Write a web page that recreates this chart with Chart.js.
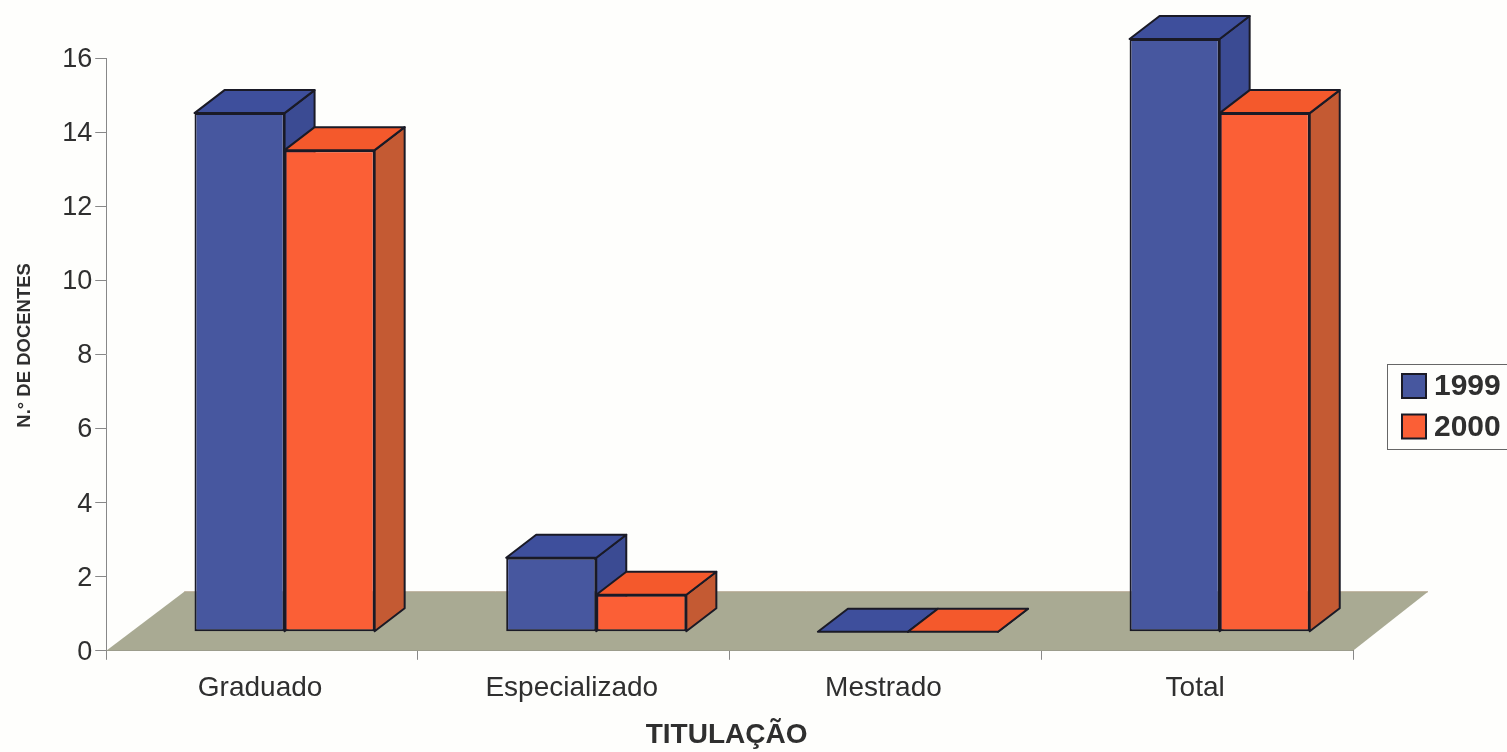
<!DOCTYPE html>
<html>
<head>
<meta charset="utf-8">
<title>Docentes por titulação</title>
<script src="https://cdn.jsdelivr.net/npm/chart.js@4"></script>
<style>
  html, body { margin: 0; padding: 0; background: #fefefc; }
  #wrap { width: 1507px; height: 752px; }
</style>
</head>
<body>
<div id="wrap"><canvas id="chart"></canvas></div>
<script>
const categories = ["Graduado", "Especializado", "Mestrado", "Total"];
const values1999 = [14, 2, 0, 16];
const values2000 = [13, 1, 0, 14];

const FONT = "'Liberation Sans', Arial, sans-serif";
const TEXT = "#2f2f2f";
const EDGE = "#1a1a26";

// fake 3d: bars stand on a floor, a bit behind the axis line
const shift = { x: 22.5, y: -19 };
const depth = { x: 30, y: -23 };
const floor = { backLeft: 78, backRight: 75, back: -59 };
const topColors = ["#3e4f9c", "#f4592c"];
const sideColors = ["#3b4b93", "#c45a33"];

function face(ctx, pts, fill) {
  ctx.beginPath();
  pts.forEach((p, i) => (i ? ctx.lineTo(p[0], p[1]) : ctx.moveTo(p[0], p[1])));
  ctx.closePath();
  ctx.fillStyle = fill;
  ctx.fill();
  ctx.stroke();
}

function drawFaces(chart, index) {
  const ctx = chart.ctx;
  ctx.save();
  ctx.translate(shift.x, shift.y);
  ctx.strokeStyle = EDGE;
  ctx.lineWidth = 2;
  ctx.lineJoin = "round";
  chart.getDatasetMeta(index).data.forEach((bar) => {
    const l = bar.x - bar.width / 2;
    const r = bar.x + bar.width / 2;
    const t = bar.y;
    const b = bar.base;
    face(ctx, [[r, t], [r + depth.x, t + depth.y], [r + depth.x, b + depth.y], [r, b]], sideColors[index]);
    face(ctx, [[l, t], [l + depth.x, t + depth.y], [r + depth.x, t + depth.y], [r, t]], topColors[index]);
  });
  ctx.restore();
}

// axis titles in the picture are not centred on their axes
function nudgeTitle(scale, dx, dy) {
  const draw = scale.drawTitle;
  scale.drawTitle = function () {
    scale.ctx.save();
    scale.ctx.translate(dx, dy);
    draw.call(scale);
    scale.ctx.restore();
  };
}

const bars3d = {
  id: "bars3d",
  afterLayout(chart) {
    nudgeTitle(chart.scales.y, 0, -9);
    nudgeTitle(chart.scales.x, -3, 0);
  },
  beforeDatasetsDraw(chart) {
    const { ctx, chartArea: a } = chart;
    const y0 = chart.scales.y.getPixelForValue(0);
    ctx.save();
    ctx.beginPath();
    ctx.moveTo(a.left, y0);
    ctx.lineTo(a.right, y0);
    ctx.lineTo(a.right + floor.backRight, y0 + floor.back);
    ctx.lineTo(a.left + floor.backLeft, y0 + floor.back);
    ctx.closePath();
    ctx.fillStyle = "#a9aa93";
    ctx.fill();
    ctx.strokeStyle = "#b3a48c";
    ctx.lineWidth = 1;
    ctx.beginPath();
    ctx.moveTo(a.left + floor.backLeft, y0 + floor.back);
    ctx.lineTo(a.right + floor.backRight, y0 + floor.back);
    ctx.stroke();
    ctx.restore();
    // 1999 goes behind the 2000 front faces
    drawFaces(chart, 0);
  },
  beforeDatasetDraw(chart) {
    chart.ctx.save();
    chart.ctx.translate(shift.x, shift.y);
  },
  afterDatasetDraw(chart) {
    chart.ctx.restore();
  },
  afterDatasetsDraw(chart) {
    drawFaces(chart, 1);
  },
  afterDraw(chart) {
    const ctx = chart.ctx;
    ctx.save();
    ctx.strokeStyle = "#666";
    ctx.lineWidth = 1;
    ctx.strokeRect(1387.5, 364.5, 125, 85);
    ctx.font = "bold 30px " + FONT;
    ctx.textBaseline = "middle";
    chart.data.datasets.forEach((ds, i) => {
      const y = 374 + i * 40.5;
      ctx.fillStyle = ds.backgroundColor;
      ctx.strokeStyle = EDGE;
      ctx.lineWidth = 2;
      ctx.fillRect(1402, y, 24, 24);
      ctx.strokeRect(1402, y, 24, 24);
      ctx.fillStyle = TEXT;
      ctx.fillText(ds.label, 1434, y + 13);
    });
    ctx.restore();
  },
};

new Chart(document.getElementById("chart"), {
  type: "bar",
  data: {
    labels: categories,
    datasets: [
      { label: "1999", data: values1999, backgroundColor: "#47579f" },
      { label: "2000", data: values2000, backgroundColor: "#fb5f36" },
    ],
  },
  options: {
    responsive: true,
    maintainAspectRatio: false,
    animation: false,
    layout: { padding: { top: 58, right: 154 } },
    datasets: {
      bar: {
        categoryPercentage: 0.578,
        barPercentage: 1,
        borderColor: EDGE,
        borderWidth: 2,
        borderSkipped: false,
        clip: false,
      },
    },
    plugins: { legend: { display: false }, tooltip: { enabled: false } },
    scales: {
      x: {
        grid: { drawOnChartArea: false, color: "#888", tickLength: 9 },
        border: { color: "#777" },
        ticks: { color: TEXT, padding: 12, labelOffset: -2, maxRotation: 0, font: { family: FONT, size: 28 } },
        title: {
          display: true,
          text: "TITULAÇÃO",
          color: TEXT,
          padding: { top: 1, bottom: 0 },
          font: { family: FONT, size: 28, weight: "bold" },
        },
      },
      y: {
        min: 0,
        max: 16,
        grid: { drawOnChartArea: false, color: "#888", tickLength: 11 },
        border: { color: "#888" },
        ticks: { stepSize: 2, color: TEXT, padding: 3, labelOffset: 1.5, font: { family: FONT, size: 27 } },
        title: {
          display: true,
          text: "N.° DE DOCENTES",
          color: TEXT,
          padding: { top: 14, bottom: 23 },
          font: { family: FONT, size: 18.5, weight: "bold" },
        },
      },
    },
  },
  plugins: [bars3d],
});
</script>
</body>
</html>
